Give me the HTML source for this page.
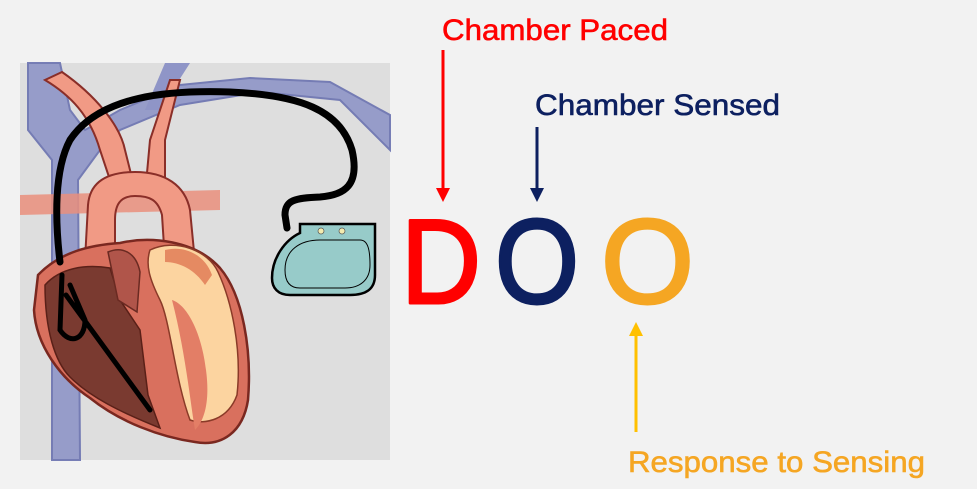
<!DOCTYPE html>
<html><head><meta charset="utf-8"><style>
html,body{margin:0;padding:0;background:#f2f2f2;}
svg{display:block}
</style></head><body>
<svg width="977" height="489" viewBox="0 0 977 489" xmlns="http://www.w3.org/2000/svg">
<rect width="977" height="489" fill="#f2f2f2"/>
<rect x="20" y="63" width="370" height="397" fill="#dedede"/>
<g>
<path d="M28 63 L28 130 L52 160 L52 460 L80 460 L78 180 L100 150 L120 130 L180 105 L260 92 L340 100 L390 150 L390 115 L330 82 L250 78 L180 85 L120 110 L85 130 L70 110 L60 63 Z" fill="#8f95c7" stroke="#6a72b0" stroke-width="2" opacity="0.9"/>
<path d="M165 63 L190 63 L160 110 L145 110 Z" fill="#8f95c7"/>
<path d="M45 80 C70 95 90 115 100 150 L115 195 L135 190 L125 150 C120 125 95 95 62 72 Z" fill="#f19a85" stroke="#8a2e28" stroke-width="2"/>
<path d="M145 195 L150 140 L170 80 L180 80 L165 140 L165 195 Z" fill="#f19a85" stroke="#8a2e28" stroke-width="2"/>
<path d="M20 195 L20 215 L220 210 L220 190 Z" fill="#ea8f7c" opacity="0.85"/>
<path d="M85 260 L88 205 C90 180 110 172 135 172 C165 172 185 185 190 210 L195 262 L165 262 L162 215 C158 200 150 196 135 196 C120 196 115 205 115 220 L115 262 Z" fill="#f19a85" stroke="#8a2e28" stroke-width="2"/>
<path d="M38 275 C60 252 90 245 120 243 C150 236 195 240 220 268 C243 295 252 350 248 400 C243 432 222 447 195 442 C160 437 120 422 90 398 C60 378 36 345 34 310 Z" fill="#d9705e" stroke="#7a2820" stroke-width="2.5"/>
<path d="M150 250 C175 238 208 250 218 272 C232 302 242 350 237 395 C228 420 205 425 190 420 C175 380 170 320 160 300 C150 280 145 265 150 250 Z" fill="#fcd4a0" stroke="#8a3a28" stroke-width="1.5"/>
<path d="M165 250 C185 245 205 255 212 275 L205 285 C195 270 180 262 165 262 Z" fill="#e58a62"/>
<path d="M172 300 C188 305 202 335 206 370 C210 400 205 420 195 430 C190 400 185 350 172 300 Z" fill="#e37e66"/>
<path d="M45 285 C60 268 85 264 110 268 L120 300 L140 330 L148 395 L160 428 C120 412 90 397 70 377 C55 362 45 330 45 285 Z" fill="#7a3a30" stroke="#5a2018" stroke-width="1.5"/>
<path d="M108 252 C122 246 136 252 140 272 L137 312 L118 300 Z" fill="#b0554a" stroke="#6a2a22" stroke-width="1.5"/>
<path d="M60 262 C55 220 54 170 70 140 C100 95 170 90 230 92 C300 95 340 110 352 150 C360 185 345 195 320 197 C295 198 285 200 285 215 L287 228" fill="none" stroke="#000" stroke-width="7" stroke-linecap="round"/>
<path d="M62 275 L60 330 C70 345 85 340 85 320 L70 285 M66 295 L150 410" fill="none" stroke="#000" stroke-width="5" stroke-linecap="round"/>
<path d="M300 224 L375 224 L375 275 C375 290 365 295 350 295 L290 295 C278 295 272 288 272 278 C272 258 285 240 300 233 Z" fill="#97cbc9" stroke="#000" stroke-width="2.5"/>
<path d="M285 270 C285 250 300 240 320 240 L360 240 C368 240 370 250 370 265 C370 280 360 288 345 288 L300 288 C290 288 285 282 285 270 Z" fill="none" stroke="#000" stroke-width="1"/>
<circle cx="321" cy="231" r="3" fill="#f3ecb0" stroke="#555" stroke-width="0.7"/>
<circle cx="342" cy="231" r="3" fill="#f3ecb0" stroke="#555" stroke-width="0.7"/>
</g>

<g font-family="Liberation Sans, sans-serif" font-size="30" stroke-width="0.6">
<text x="442" y="40" fill="#ff0000" stroke="#ff0000" textLength="226" lengthAdjust="spacingAndGlyphs">Chamber Paced</text>
<text x="535" y="115" fill="#0d2060" stroke="#0d2060" textLength="245" lengthAdjust="spacingAndGlyphs">Chamber Sensed</text>
<text x="628" y="472" fill="#f5a623" stroke="#f5a623" textLength="297" lengthAdjust="spacingAndGlyphs">Response to Sensing</text>
</g>

<line x1="443" y1="50" x2="443" y2="190" stroke="#ff0000" stroke-width="3"/>
<polygon points="436,188 450,188 443,202" fill="#ff0000"/>
<line x1="537" y1="127" x2="537" y2="190" stroke="#0d2060" stroke-width="3"/>
<polygon points="530,188 544,188 537,202" fill="#0d2060"/>
<line x1="636" y1="334" x2="636" y2="432" stroke="#ffc000" stroke-width="3"/>
<polygon points="629,336 643,336 636,322" fill="#ffc000"/>

<g font-family="Liberation Sans, sans-serif" font-size="120" stroke-width="3" stroke-linejoin="round">
<text x="401" y="303" fill="#ff0000" stroke="#ff0000" textLength="80" lengthAdjust="spacingAndGlyphs">D</text>
<text x="495" y="303" fill="#0d2060" stroke="#0d2060" textLength="84" lengthAdjust="spacingAndGlyphs">O</text>
<text x="601" y="303" fill="#f5a623" stroke="#f5a623" textLength="93" lengthAdjust="spacingAndGlyphs">O</text>
</g>
</svg>
</body></html>
